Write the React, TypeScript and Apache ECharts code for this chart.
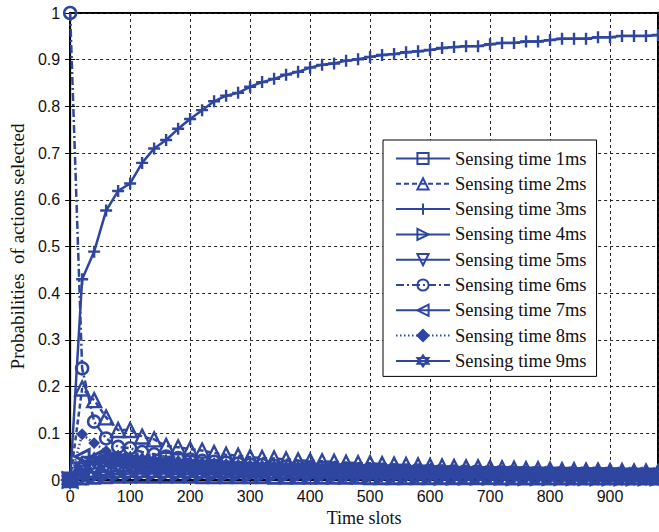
import React, { useEffect, useRef } from "react";
import * as echarts from "echarts";

const slots = [0, 20, 40, 60, 80, 100, 120, 140, 160, 180, 200, 220, 240, 260, 280, 300, 320, 340, 360, 380, 400, 420, 440, 460, 480, 500, 520, 540, 560, 580, 600, 620, 640, 660, 680, 700, 720, 740, 760, 780, 800, 820, 840, 860, 880, 900, 920, 940, 960, 980];

const names = ["Sensing time 1ms", "Sensing time 2ms", "Sensing time 3ms", "Sensing time 4ms", "Sensing time 5ms", "Sensing time 6ms", "Sensing time 7ms", "Sensing time 8ms", "Sensing time 9ms"];

const s1 = [0, 0.003, 0.005, 0.006, 0.007, 0.007, 0.007, 0.007, 0.007, 0.007, 0.007, 0.006, 0.006, 0.006, 0.006, 0.006, 0.006, 0.005, 0.005, 0.005, 0.005, 0.005, 0.005, 0.005, 0.005, 0.004, 0.004, 0.004, 0.004, 0.004, 0.004, 0.004, 0.004, 0.004, 0.004, 0.004, 0.003, 0.003, 0.003, 0.003, 0.003, 0.003, 0.003, 0.003, 0.003, 0.003, 0.003, 0.003, 0.003, 0.003];
const s2 = [0, 0.196, 0.171, 0.134, 0.107, 0.107, 0.093, 0.087, 0.073, 0.070, 0.066, 0.063, 0.058, 0.054, 0.052, 0.049, 0.047, 0.046, 0.044, 0.042, 0.041, 0.040, 0.039, 0.037, 0.036, 0.036, 0.034, 0.033, 0.032, 0.031, 0.030, 0.029, 0.028, 0.027, 0.027, 0.026, 0.025, 0.024, 0.023, 0.023, 0.022, 0.021, 0.021, 0.020, 0.020, 0.019, 0.019, 0.018, 0.018, 0.017];
const s3 = [0, 0.430, 0.489, 0.577, 0.619, 0.635, 0.679, 0.710, 0.728, 0.752, 0.773, 0.792, 0.811, 0.823, 0.829, 0.842, 0.852, 0.859, 0.868, 0.874, 0.883, 0.889, 0.892, 0.898, 0.901, 0.906, 0.910, 0.912, 0.916, 0.918, 0.921, 0.925, 0.927, 0.929, 0.929, 0.933, 0.936, 0.936, 0.939, 0.939, 0.942, 0.945, 0.945, 0.945, 0.948, 0.948, 0.951, 0.951, 0.951, 0.953];
const s4 = [0, 0.004, 0.008, 0.011, 0.013, 0.014, 0.014, 0.014, 0.014, 0.013, 0.013, 0.013, 0.012, 0.012, 0.012, 0.011, 0.011, 0.011, 0.010, 0.010, 0.010, 0.010, 0.009, 0.009, 0.009, 0.009, 0.008, 0.008, 0.008, 0.008, 0.008, 0.007, 0.007, 0.007, 0.007, 0.007, 0.007, 0.006, 0.006, 0.006, 0.006, 0.006, 0.006, 0.006, 0.005, 0.005, 0.005, 0.005, 0.005, 0.005];
const s5 = [0, 0.015, 0.025, 0.030, 0.031, 0.031, 0.030, 0.029, 0.028, 0.027, 0.026, 0.025, 0.024, 0.023, 0.022, 0.021, 0.020, 0.020, 0.019, 0.018, 0.018, 0.017, 0.017, 0.016, 0.016, 0.015, 0.015, 0.014, 0.014, 0.013, 0.013, 0.013, 0.012, 0.012, 0.012, 0.011, 0.011, 0.011, 0.010, 0.010, 0.010, 0.010, 0.009, 0.009, 0.009, 0.009, 0.008, 0.008, 0.008, 0.008];
const s6 = [1.0, 0.239, 0.125, 0.089, 0.071, 0.068, 0.060, 0.055, 0.050, 0.047, 0.044, 0.041, 0.039, 0.037, 0.035, 0.033, 0.032, 0.030, 0.029, 0.028, 0.027, 0.026, 0.025, 0.024, 0.023, 0.022, 0.022, 0.021, 0.020, 0.020, 0.019, 0.018, 0.018, 0.017, 0.017, 0.016, 0.016, 0.015, 0.015, 0.014, 0.014, 0.014, 0.013, 0.013, 0.013, 0.012, 0.012, 0.012, 0.011, 0.011];
const s7 = [0, 0.050, 0.046, 0.043, 0.041, 0.039, 0.037, 0.035, 0.033, 0.031, 0.029, 0.028, 0.027, 0.026, 0.025, 0.024, 0.023, 0.022, 0.021, 0.020, 0.019, 0.019, 0.018, 0.017, 0.017, 0.016, 0.016, 0.015, 0.015, 0.014, 0.014, 0.013, 0.013, 0.013, 0.012, 0.012, 0.012, 0.011, 0.011, 0.011, 0.010, 0.010, 0.010, 0.010, 0.009, 0.009, 0.009, 0.009, 0.008, 0.008];
const s8 = [0, 0.098, 0.079, 0.062, 0.052, 0.047, 0.043, 0.040, 0.037, 0.035, 0.033, 0.031, 0.029, 0.028, 0.027, 0.025, 0.024, 0.023, 0.022, 0.021, 0.020, 0.019, 0.019, 0.018, 0.017, 0.017, 0.016, 0.016, 0.015, 0.015, 0.014, 0.014, 0.013, 0.013, 0.013, 0.012, 0.012, 0.012, 0.011, 0.011, 0.011, 0.010, 0.010, 0.010, 0.010, 0.009, 0.009, 0.009, 0.009, 0.008];
const s9 = [0, 0.030, 0.042, 0.045, 0.045, 0.043, 0.041, 0.039, 0.037, 0.035, 0.033, 0.031, 0.030, 0.028, 0.027, 0.026, 0.025, 0.024, 0.023, 0.022, 0.021, 0.020, 0.020, 0.019, 0.018, 0.018, 0.017, 0.017, 0.016, 0.016, 0.015, 0.015, 0.014, 0.014, 0.014, 0.013, 0.013, 0.013, 0.012, 0.012, 0.012, 0.011, 0.011, 0.011, 0.011, 0.010, 0.010, 0.010, 0.010, 0.010];

const seriesValues = [s1, s2, s3, s4, s5, s6, s7, s8, s9];

const BLUE = "#2E46A0";

const markers = [
  { symbol: "path://M0,0 L10,0 L10,10 L0,10 Z", size: 11, line: "solid", fill: "none", bw: 3 },
  { symbol: "path://M5,0 L10,9 L0,9 Z", size: 14, line: [5, 3], fill: "none", bw: 2.4 },
  { symbol: "path://M5,0 L5,10 M0,5 L10,5", size: 12, line: "solid", fill: "none", bw: 2.4 },
  { symbol: "path://M0,0 L9,5 L0,10 Z", size: 14, line: "solid", fill: "none", bw: 3 },
  { symbol: "path://M0,0 L10,0 L5,9 Z", size: 14, line: "solid", fill: "none", bw: 3 },
  { symbol: "path://M10,5 A5,5 0 1,1 0,5 A5,5 0 1,1 10,5 Z", size: 12, line: [8, 3, 2, 3], fill: "none", bw: 2.6 },
  { symbol: "path://M9,0 L0,5 L9,10 Z", size: 14, line: "solid", fill: "none", bw: 3 },
  { symbol: "diamond", size: 9, line: [1.5, 2.5], fill: BLUE, bw: 2 },
  { symbol: "path://M5,0 L9.33,7.5 L0.67,7.5 Z M5,10 L0.67,2.5 L9.33,2.5 Z", size: 13, line: "solid", fill: "none", bw: 3 },
];

export default function App() {
  const ref = useRef<HTMLDivElement>(null);
  useEffect(() => {
    if (!ref.current) return;
    const chart = echarts.init(ref.current, undefined, { renderer: "svg" });
    const series = names.map((name, i) => ({
      name,
      type: "line",
      data: slots.map((x, j) => [x, seriesValues[i][j]]),
      symbol: markers[i].symbol,
      symbolSize: markers[i].size,
      showAllSymbol: true,
      clip: false,
      lineStyle: { color: BLUE, width: 2.5, type: markers[i].line },
      itemStyle: { color: markers[i].fill, borderColor: BLUE, borderWidth: markers[i].bw },
      emphasis: { disabled: true },
      z: i === 2 ? 5 : 3,
    }));
    const tickLabelStyle = { fontFamily: "Liberation Sans", fontSize: 16, color: "#111" };
    const splitDash = { show: true, lineStyle: { color: "#222", type: [3, 3], width: 1 } };
    chart.setOption({
      animation: false,
      backgroundColor: "#fff",
      grid: { left: 66, right: 1, top: 13, bottom: 52, show: true, borderColor: "#000", borderWidth: 2, backgroundColor: "transparent" },
      legend: {
        data: names,
        orient: "vertical",
        left: 383,
        top: 140,
        itemWidth: 54,
        itemHeight: 14,
        itemGap: 6.3,
        padding: [9, 10, 6, 12],
        borderColor: "#000",
        borderWidth: 1,
        backgroundColor: "#fff",
        textStyle: { fontFamily: "Liberation Serif", fontSize: 18.5, color: "#111" },
        z: 10,
      },
      xAxis: [
        {
          type: "value",
          min: 0,
          max: 980,
          interval: 100,
          name: "Time slots",
          nameLocation: "middle",
          nameGap: 28,
          nameTextStyle: { fontFamily: "Liberation Serif", fontSize: 18, color: "#111" },
          axisLine: { show: true, lineStyle: { color: "#000", width: 2 } },
          axisTick: { show: true, inside: true, length: 5, lineStyle: { color: "#000" } },
          axisLabel: { ...tickLabelStyle, margin: 8, showMaxLabel: false },
          splitLine: splitDash,
        },
        {
          type: "value",
          position: "top",
          min: 0,
          max: 980,
          interval: 100,
          axisLine: { show: false },
          axisTick: { show: true, inside: true, length: 5, lineStyle: { color: "#000" } },
          axisLabel: { show: false },
          splitLine: { show: false },
        },
      ],
      yAxis: [
        {
          type: "value",
          min: 0,
          max: 1,
          interval: 0.1,
          name: "Probabilities  of actions selected",
          nameLocation: "middle",
          nameGap: 40,
          nameTextStyle: { fontFamily: "Liberation Serif", fontSize: 19, color: "#111" },
          axisLine: { show: true, lineStyle: { color: "#000", width: 2 } },
          axisTick: { show: true, inside: true, length: 5, lineStyle: { color: "#000" } },
          axisLabel: {
            ...tickLabelStyle,
            margin: 10,
            formatter: (v: number) => (v === 0 ? "0" : v === 1 ? "1" : v.toFixed(1)),
          },
          splitLine: splitDash,
        },
        {
          type: "value",
          position: "right",
          min: 0,
          max: 1,
          interval: 0.1,
          axisLine: { show: false },
          axisTick: { show: true, inside: true, length: 5, lineStyle: { color: "#000" } },
          axisLabel: { show: false },
          splitLine: { show: false },
        },
      ],
      series,
    });
    return () => chart.dispose();
  }, []);
  return (
    <div
      ref={ref}
      style={{ position: "fixed", left: 0, top: 0, width: 659, height: 532, background: "#fff" }}
    />
  );
}
